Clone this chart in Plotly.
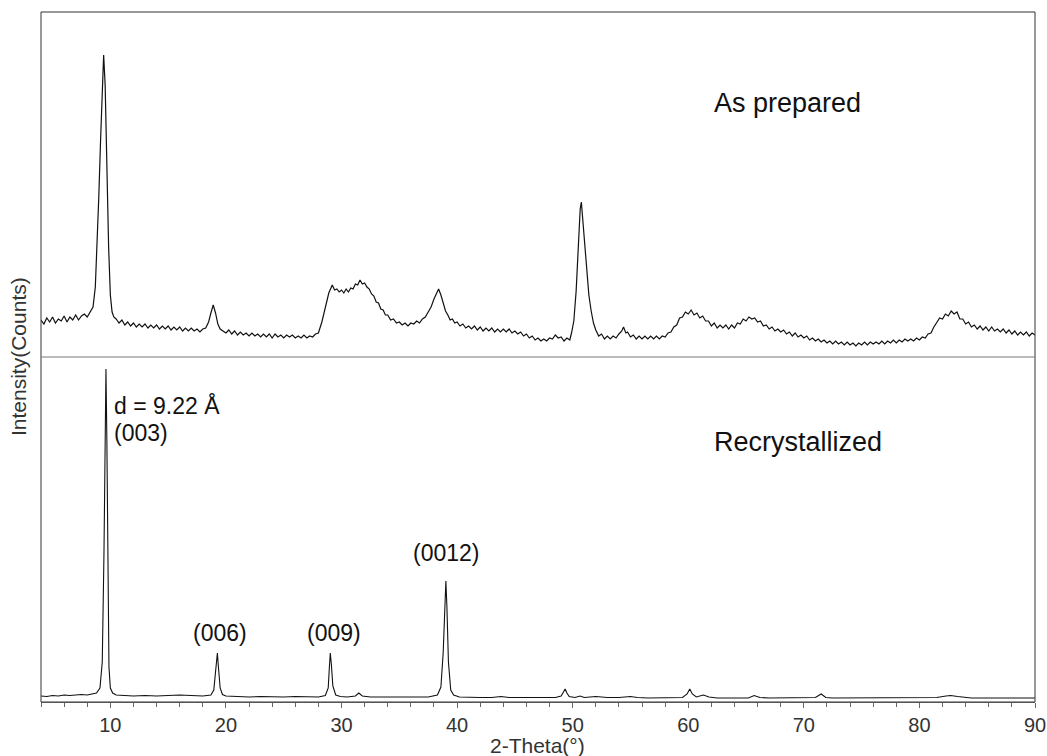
import plotly.graph_objects as go

# ---- As prepared (top panel): (2-theta deg, intensity a.u.) ----
prep_xy = [
    (4.0, 37), (4.25, 33), (4.5, 39), (4.75, 35), (5.0, 40), (5.25, 34), (5.5, 38), (5.75, 36),
    (6.0, 41), (6.25, 35), (6.5, 40), (6.75, 37), (7.0, 42), (7.25, 37), (7.5, 41), (7.75, 43),
    (8.0, 40), (8.25, 45), (8.5, 50), (8.7, 70), (8.85, 110), (9.0, 160), (9.15, 215),
    (9.3, 262), (9.42, 302), (9.55, 272), (9.7, 185), (9.85, 110), (10.0, 62), (10.15, 45),
    (10.3, 40), (10.5, 38), (10.75, 34), (11.0, 37), (11.25, 32), (11.5, 35), (11.75, 31),
    (12.0, 34), (12.25, 30), (12.5, 33), (12.75, 30), (13.0, 33), (13.25, 29), (13.5, 32),
    (13.75, 29), (14.0, 32), (14.25, 28), (14.5, 31), (14.75, 28), (15.0, 31), (15.25, 27),
    (15.5, 30), (15.75, 27), (16.0, 30), (16.25, 26), (16.5, 29), (16.75, 26), (17.0, 29),
    (17.25, 26), (17.5, 28), (17.75, 25), (18.0, 28), (18.25, 29), (18.5, 35), (18.7, 44),
    (18.9, 52), (19.1, 44), (19.3, 33), (19.5, 28), (19.75, 26), (20.0, 24), (20.25, 27),
    (20.5, 23), (20.75, 26), (21.0, 22), (21.25, 25), (21.5, 22), (21.75, 24), (22.0, 21),
    (22.25, 24), (22.5, 21), (22.75, 23), (23.0, 20), (23.25, 23), (23.5, 20), (23.75, 23),
    (24.0, 19), (24.25, 23), (24.5, 20), (24.75, 22), (25.0, 19), (25.25, 22), (25.5, 20),
    (25.75, 22), (26.0, 19), (26.25, 21), (26.5, 19), (26.75, 22), (27.0, 19), (27.25, 21),
    (27.5, 20), (27.75, 23), (28.0, 24), (28.3, 35), (28.6, 50), (28.9, 64), (29.2, 72),
    (29.4, 67), (29.6, 68), (29.8, 65), (30.0, 67), (30.2, 64), (30.4, 68), (30.6, 65),
    (30.8, 69), (31.0, 68), (31.2, 73), (31.4, 72), (31.6, 77), (31.8, 73), (32.0, 74),
    (32.2, 70), (32.4, 68), (32.6, 63), (32.8, 61), (33.0, 55), (33.2, 54), (33.4, 48),
    (33.6, 47), (33.8, 42), (34.0, 42), (34.25, 37), (34.5, 38), (34.75, 34), (35.0, 35),
    (35.25, 32), (35.5, 34), (35.75, 31), (36.0, 34), (36.25, 33), (36.5, 36), (36.75, 34),
    (37.0, 38), (37.25, 40), (37.5, 45), (37.75, 50), (38.0, 58), (38.2, 64), (38.4, 68),
    (38.6, 62), (38.8, 54), (39.0, 46), (39.2, 42), (39.4, 37), (39.6, 38), (39.8, 34),
    (40.0, 35), (40.25, 31), (40.5, 33), (40.75, 29), (41.0, 31), (41.25, 28), (41.5, 31),
    (41.75, 27), (42.0, 30), (42.25, 26), (42.5, 29), (42.75, 26), (43.0, 29), (43.25, 25),
    (43.5, 28), (43.75, 25), (44.0, 28), (44.25, 25), (44.5, 28), (44.75, 24), (45.0, 26),
    (45.25, 23), (45.5, 25), (45.75, 21), (46.0, 23), (46.25, 19), (46.5, 21), (46.75, 17),
    (47.0, 19), (47.25, 16), (47.5, 18), (47.75, 16), (48.0, 19), (48.25, 18), (48.5, 22),
    (48.75, 19), (49.0, 20), (49.25, 16), (49.5, 19), (49.75, 17), (49.9, 24), (50.1, 36),
    (50.3, 66), (50.5, 115), (50.65, 148), (50.75, 155), (50.85, 140), (51.0, 118),
    (51.2, 86), (51.4, 62), (51.6, 46), (51.8, 34), (52.0, 27), (52.25, 21), (52.5, 23),
    (52.75, 18), (53.0, 21), (53.25, 18), (53.5, 21), (53.75, 19), (54.0, 23), (54.25, 26),
    (54.4, 30), (54.6, 24), (54.75, 25), (55.0, 20), (55.25, 22), (55.5, 18), (55.75, 21),
    (56.0, 18), (56.25, 21), (56.5, 18), (56.75, 21), (57.0, 18), (57.25, 21), (57.5, 18),
    (57.75, 21), (58.0, 20), (58.25, 24), (58.5, 25), (58.75, 30), (59.0, 32), (59.25, 39),
    (59.5, 40), (59.75, 45), (60.0, 43), (60.25, 47), (60.5, 42), (60.75, 44), (61.0, 39),
    (61.25, 41), (61.5, 36), (61.75, 36), (62.0, 31), (62.25, 34), (62.5, 29), (62.75, 32),
    (63.0, 29), (63.25, 32), (63.5, 28), (63.75, 32), (64.0, 29), (64.25, 34), (64.5, 33),
    (64.75, 38), (65.0, 36), (65.25, 40), (65.5, 38), (65.75, 39), (66.0, 35), (66.25, 36),
    (66.5, 31), (66.75, 32), (67.0, 28), (67.25, 30), (67.5, 26), (67.75, 28), (68.0, 25),
    (68.25, 27), (68.5, 23), (68.75, 25), (69.0, 21), (69.25, 24), (69.5, 20), (69.75, 22),
    (70.0, 19), (70.25, 21), (70.5, 17), (70.75, 19), (71.0, 16), (71.25, 18), (71.5, 15),
    (71.75, 17), (72.0, 14), (72.25, 16), (72.5, 13), (72.75, 16), (73.0, 13), (73.25, 15),
    (73.5, 12), (73.75, 15), (74.0, 12), (74.25, 14), (74.5, 11), (74.75, 14), (75.0, 12),
    (75.25, 15), (75.5, 12), (75.75, 15), (76.0, 13), (76.25, 15), (76.5, 13), (76.75, 16),
    (77.0, 13), (77.25, 16), (77.5, 14), (77.75, 17), (78.0, 14), (78.25, 17), (78.5, 15),
    (78.75, 18), (79.0, 16), (79.25, 18), (79.5, 16), (79.75, 19), (80.0, 17), (80.25, 20),
    (80.5, 19), (80.75, 23), (81.0, 24), (81.25, 30), (81.5, 35), (81.75, 39), (82.0, 38),
    (82.25, 43), (82.5, 41), (82.75, 46), (83.0, 43), (83.25, 45), (83.5, 38), (83.75, 38),
    (84.0, 33), (84.25, 35), (84.5, 30), (84.75, 32), (85.0, 28), (85.25, 31), (85.5, 27),
    (85.75, 30), (86.0, 26), (86.25, 30), (86.5, 26), (86.75, 28), (87.0, 25), (87.25, 28),
    (87.5, 24), (87.75, 27), (88.0, 23), (88.25, 26), (88.5, 22), (88.75, 25), (89.0, 22),
    (89.25, 25), (89.5, 21), (89.75, 24), (90.0, 22),
]
prep_2theta = [p[0] for p in prep_xy]
prep_counts = [p[1] for p in prep_xy]

# ---- Recrystallized (bottom panel) ----
recr_2theta = [
    4.0, 4.5, 5.0, 5.5, 6.0, 6.5, 7.0, 7.5, 8.0, 8.5, 8.8, 9.1, 9.3, 9.45, 9.55, 9.62,
    9.7, 9.78, 9.88, 10.0, 10.2, 10.5, 11.0, 12.0, 13.0, 14.0, 15.0, 16.0, 17.0, 18.0,
    18.7, 18.95, 19.1, 19.2, 19.26, 19.35, 19.5, 19.7, 20.0, 21.0, 22.0, 23.0, 24.0,
    25.0, 26.0, 27.0, 28.0, 28.6, 28.85, 28.95, 29.03, 29.12, 29.25, 29.5, 29.9, 30.5,
    31.2, 31.5, 31.8, 32.5, 33.5, 34.5, 35.5, 36.5, 37.5, 38.3, 38.6, 38.8, 38.95, 39.03,
    39.12, 39.25, 39.45, 39.7, 40.2, 41.0, 42.0, 43.0, 43.8, 44.5, 45.5, 46.5, 47.5,
    48.5, 49.0, 49.2, 49.35, 49.5, 49.7, 50.2, 50.65, 51.0, 52.0, 53.0, 54.0, 55.0,
    55.6, 56.5, 57.5, 58.5, 59.5, 59.9, 60.13, 60.35, 60.7, 61.3, 61.8, 62.5, 63.5,
    64.5, 65.2, 65.7, 66.2, 67.0, 68.0, 69.0, 70.0, 71.0, 71.5, 71.9, 72.5, 74.0, 75.5,
    77.0, 78.5, 80.0, 81.5, 82.3, 82.7, 83.3, 83.9, 84.5, 86.0, 87.5, 89.0, 90.0,
]
recr_counts = [
    6, 5.5, 6.5, 6, 7, 6.5, 7, 7.5, 7, 8, 9, 14, 40, 150, 300, 333,
    260, 120, 35, 14, 9, 7, 6.5, 6, 6.5, 6, 6.5, 7, 6.5, 6,
    7, 12, 30, 47, 49, 35, 14, 7.5, 6, 5.5, 5, 5.5, 5,
    5, 5.5, 5, 5, 6.5, 14, 35, 49, 38, 16, 7, 5.5, 5,
    6, 9, 6, 5, 5, 5, 4.5, 5, 5, 7, 15, 50, 105, 121,
    95, 40, 12, 7, 5, 4.5, 4.5, 4.5, 5.5, 4.5, 4.5, 4.5, 4,
    4.5, 6, 10, 13, 9, 5.5, 4.5, 6, 4.5, 5.5, 4.5, 4.5, 5.5,
    4.5, 4, 4, 4, 4.5, 8, 13, 8, 5, 7, 5, 4, 4,
    4.5, 4, 6.5, 4.5, 4, 4, 4, 4, 4.5, 8, 4.5, 4, 4, 4,
    4, 4, 4, 4.5, 6, 6.5, 5.5, 5, 4, 4, 4, 4, 4,
]

x_ticks = [10, 20, 30, 40, 50, 60, 70, 80, 90]
x_range = [4, 90]
y_range = [0, 345]

FONT = "Arial, Liberation Sans, sans-serif"
L, R, T, B = 41, 12, 12, 54
W, H = 1047, 756
PW, PH = W - L - R, H - T - B


def px(xp):
    return (xp - L) / PW


def py(yp):
    return (H - B - yp) / PH


fig = go.Figure()
fig.add_trace(go.Scatter(x=prep_2theta, y=prep_counts, mode="lines",
                         line=dict(color="#111111", width=1.2), xaxis="x", yaxis="y",
                         name="As prepared", showlegend=False))
fig.add_trace(go.Scatter(x=recr_2theta, y=recr_counts, mode="lines",
                         line=dict(color="#111111", width=1.1), xaxis="x", yaxis="y2",
                         name="Recrystallized", showlegend=False))

lab = dict(family=FONT, color="#111111", size=23)

fig.update_layout(
    width=W, height=H,
    margin=dict(l=L, r=R, t=T, b=B, autoexpand=False),
    paper_bgcolor="white", plot_bgcolor="white",
    font=dict(family=FONT, color="#333333"),
    xaxis=dict(range=x_range, anchor="y2", tickvals=x_ticks, automargin=False,
               ticks="outside", ticklen=5, tickcolor="#666666", tickwidth=1,
               minor=dict(dtick=2, ticks="outside", ticklen=4, tickcolor="#666666"),
               showline=True, linecolor="#777777", linewidth=1,
               showgrid=False, zeroline=False,
               tickfont=dict(size=20, family=FONT, color="#333333")),
    yaxis=dict(domain=[0.5, 1], range=y_range, showticklabels=False, ticks="",
               showgrid=False, zeroline=False, showline=False, automargin=False),
    yaxis2=dict(domain=[0, 0.5], range=y_range, showticklabels=False, ticks="",
                showgrid=False, zeroline=False, showline=False, automargin=False),
    shapes=[
        dict(type="rect", xref="paper", yref="paper", x0=0, x1=1, y0=0, y1=1,
             line=dict(color="#333333", width=1)),
        dict(type="line", xref="paper", yref="paper", x0=0, x1=1, y0=0.5, y1=0.5,
             line=dict(color="#777777", width=1)),
    ],
    annotations=[
        dict(text="Intensity(Counts)", xref="paper", yref="paper", x=px(18), y=0.5,
             xanchor="center", yanchor="middle", textangle=-90, showarrow=False,
             font=dict(size=21, family=FONT, color="#333333")),
        dict(text="2-Theta(°)", xref="paper", yref="paper", x=px(537), y=py(745),
             xanchor="center", yanchor="middle", showarrow=False,
             font=dict(size=21, family=FONT, color="#333333")),
        dict(text="As prepared", xref="paper", yref="paper", x=px(712), y=py(103),
             xanchor="left", yanchor="middle", showarrow=False,
             font=dict(lab, size=27)),
        dict(text="Recrystallized", xref="paper", yref="paper", x=px(712), y=py(442),
             xanchor="left", yanchor="middle", showarrow=False,
             font=dict(lab, size=27)),
        dict(text="d = 9.22 Å", xref="paper", yref="paper", x=px(112), y=py(405),
             xanchor="left", yanchor="middle", showarrow=False, font=lab),
        dict(text="(003)", xref="paper", yref="paper", x=px(112), y=py(433),
             xanchor="left", yanchor="middle", showarrow=False, font=lab),
        dict(text="(006)", xref="paper", yref="paper", x=px(220), y=py(633),
             xanchor="center", yanchor="middle", showarrow=False, font=lab),
        dict(text="(009)", xref="paper", yref="paper", x=px(334), y=py(633),
             xanchor="center", yanchor="middle", showarrow=False, font=lab),
        dict(text="(0012)", xref="paper", yref="paper", x=px(446), y=py(553),
             xanchor="center", yanchor="middle", showarrow=False, font=lab),
    ],
)

fig.write_html("out.html")
